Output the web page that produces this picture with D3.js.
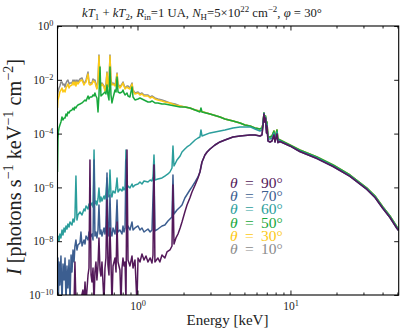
<!DOCTYPE html>
<html>
<head>
<meta charset="utf-8">
<script src="https://cdn.jsdelivr.net/npm/d3@7"></script>
<style>
body { margin: 0; background: #fff; }
svg text { white-space: pre; }
</style>
</head>
<body>
<script>

// energies in keV, intensities in photons s^-1 keV^-1 cm^-2

var lowGray10 = [
	[0.300, 2.11e-3], [0.302, 3.53e-3], [0.307, 4.96e-3], [0.311, 5.89e-3], [0.316, 8.29e-3], [0.321, 8.29e-3],
	[0.326, 6.41e-3], [0.331, 6.99e-3], [0.336, 5.41e-3], [0.341, 7.61e-3], [0.346, 9.03e-3], [0.351, 9.84e-3],
	[0.357, 6.99e-3], [0.362, 7.61e-3], [0.373, 7.61e-3], [0.379, 9.84e-3], [0.385, 8.29e-3], [0.390, 9.84e-3],
	[0.396, 7.61e-3], [0.402, 9.84e-3], [0.408, 8.29e-3], [0.421, 1.07e-2], [0.434, 1.17e-2], [0.447, 6.99e-3],
	[0.454, 8.29e-3], [0.461, 9.84e-3], [0.475, 1.95e-2], [0.482, 8.29e-3], [0.489, 7.61e-3], [0.504, 7.61e-3],
	[0.512, 1.07e-2], [0.520, 9.84e-3], [0.527, 9.84e-3], [0.535, 6.99e-3], [0.543, 4.96e-3], [0.552, 9.84e-3],
	[0.560, 8.36e-2], [0.569, 8.29e-3], [0.577, 6.99e-3], [0.586, 7.61e-3], [0.604, 5.89e-3], [0.613, 4.18e-3],
	[0.622, 6.99e-3], [0.632, 1.95e-2], [0.641, 6.41e-3], [0.651, 8.29e-3], [0.661, 8.36e-2], [0.671, 9.84e-3],
	[0.681, 6.99e-3], [0.692, 7.61e-3], [0.713, 6.41e-3], [0.724, 9.84e-3], [0.735, 1.79e-2], [0.746, 6.99e-3],
	[0.768, 5.41e-3], [0.792, 6.99e-3], [0.804, 8.29e-3], [0.816, 6.41e-3], [0.829, 4.96e-3], [0.854, 5.89e-3],
	[0.867, 5.89e-3], [0.893, 4.96e-3], [0.921, 7.61e-3], [0.935, 4.18e-3], [0.963, 3.24e-3], [1.008, 3.53e-3],
	[1.038, 2.97e-3], [1.070, 3.24e-3], [1.103, 2.73e-3], [1.171, 2.73e-3], [1.21, 2.30e-3], [1.244, 2.50e-3],
	[1.30, 2.11e-3], [1.36, 1.94e-3], [1.446, 1.78e-3], [1.51, 1.63e-3], [1.63, 1.38e-3], [1.76, 1.26e-3],
	[1.90, 1.06e-3], [2.04, 9.76e-4], [2.20, 8.96e-4], [2.38, 7.55e-4], [2.56, 6.93e-4]
];

var lowGold30 = [
	[0.300, 8.96e-4], [0.302, 1.78e-3], [0.307, 2.50e-3], [0.311, 3.53e-3], [0.316, 4.18e-3], [0.321, 4.96e-3],
	[0.326, 3.53e-3], [0.331, 4.18e-3], [0.336, 3.53e-3], [0.341, 4.96e-3], [0.346, 5.89e-3], [0.351, 6.99e-3],
	[0.357, 4.96e-3], [0.362, 5.89e-3], [0.373, 6.41e-3], [0.379, 8.29e-3], [0.385, 6.41e-3], [0.390, 8.29e-3],
	[0.396, 5.89e-3], [0.402, 8.29e-3], [0.408, 6.99e-3], [0.421, 9.03e-3], [0.434, 9.84e-3], [0.447, 6.41e-3],
	[0.454, 7.61e-3], [0.461, 8.29e-3], [0.475, 1.65e-2], [0.482, 6.99e-3], [0.489, 6.41e-3], [0.504, 6.99e-3],
	[0.512, 9.03e-3], [0.520, 8.29e-3], [0.527, 8.29e-3], [0.535, 5.89e-3], [0.543, 4.56e-3], [0.552, 8.29e-3],
	[0.560, 7.67e-2], [0.569, 6.99e-3], [0.577, 5.89e-3], [0.586, 6.99e-3], [0.604, 5.41e-3], [0.613, 3.84e-3],
	[0.622, 5.89e-3], [0.632, 1.79e-2], [0.641, 5.41e-3], [0.651, 6.99e-3], [0.661, 7.67e-2], [0.671, 8.29e-3],
	[0.681, 6.41e-3], [0.692, 6.99e-3], [0.713, 5.89e-3], [0.724, 8.29e-3], [0.735, 1.65e-2], [0.746, 6.41e-3],
	[0.768, 4.96e-3], [0.792, 6.41e-3], [0.804, 7.61e-3], [0.816, 5.89e-3], [0.829, 4.56e-3], [0.854, 5.41e-3],
	[0.867, 4.96e-3], [0.893, 4.56e-3], [0.921, 6.99e-3], [0.935, 3.84e-3], [0.963, 2.97e-3], [1.008, 3.24e-3],
	[1.038, 2.73e-3], [1.070, 2.97e-3], [1.103, 2.50e-3], [1.171, 2.50e-3], [1.21, 2.11e-3], [1.244, 2.30e-3],
	[1.30, 1.94e-3], [1.36, 1.78e-3], [1.446, 1.63e-3], [1.51, 1.50e-3], [1.63, 1.38e-3], [1.76, 1.16e-3],
	[1.90, 1.06e-3], [2.04, 9.76e-4], [2.20, 8.96e-4], [2.38, 7.55e-4], [2.56, 6.93e-4]
];

var lowGreen50 = [
	[0.300, 3.74e-6], [0.302, 5.78e-5], [0.304, 1.15e-4], [0.307, 1.62e-4], [0.311, 2.10e-4], [0.316, 2.71e-4],
	[0.321, 4.15e-4], [0.326, 3.21e-4], [0.331, 3.81e-4], [0.336, 3.81e-4], [0.341, 5.37e-4], [0.346, 4.52e-4],
	[0.351, 6.37e-4], [0.357, 5.85e-4], [0.362, 6.93e-4], [0.373, 7.55e-4], [0.379, 8.96e-4], [0.385, 7.55e-4],
	[0.390, 9.76e-4], [0.396, 8.96e-4], [0.402, 1.06e-3], [0.408, 1.16e-3], [0.421, 1.26e-3], [0.434, 1.38e-3],
	[0.447, 1.63e-3], [0.454, 1.78e-3], [0.461, 1.63e-3], [0.475, 2.50e-3], [0.482, 1.94e-3], [0.489, 2.30e-3],
	[0.504, 2.30e-3], [0.512, 2.73e-3], [0.520, 2.50e-3], [0.527, 3.24e-3], [0.535, 2.50e-3], [0.543, 2.11e-3],
	[0.552, 6.37e-4], [0.560, 2.73e-3], [0.569, 2.99e-2], [0.577, 2.50e-3], [0.586, 2.73e-3], [0.604, 3.24e-3],
	[0.613, 3.53e-3], [0.622, 2.97e-3], [0.632, 6.41e-3], [0.641, 2.73e-3], [0.651, 1.78e-3], [0.661, 2.99e-2],
	[0.671, 2.73e-3], [0.681, 1.38e-3], [0.692, 2.11e-3], [0.713, 4.18e-3], [0.724, 3.53e-3], [0.735, 1.27e-2],
	[0.746, 3.53e-3], [0.768, 3.24e-3], [0.792, 3.53e-3], [0.804, 4.18e-3], [0.816, 3.24e-3], [0.829, 2.73e-3],
	[0.854, 3.24e-3], [0.867, 2.50e-3], [0.893, 2.30e-3], [0.921, 5.41e-3], [0.935, 2.30e-3], [0.963, 1.78e-3],
	[1.008, 1.94e-3], [1.038, 2.11e-3], [1.070, 1.94e-3], [1.103, 1.78e-3], [1.171, 1.50e-3], [1.21, 1.50e-3],
	[1.244, 1.63e-3], [1.30, 1.38e-3], [1.36, 1.38e-3], [1.446, 1.26e-3], [1.51, 1.26e-3], [1.63, 1.16e-3],
	[1.76, 1.06e-3], [1.90, 9.76e-4], [2.04, 9.76e-4], [2.20, 8.96e-4], [2.38, 7.55e-4], [2.56, 6.37e-4],
	[2.60, 8.96e-4], [2.64, 6.37e-4]
];

var lowTeal60 = [
	[0.300, 9.33e-9], [0.302, 1.56e-8], [0.307, 1.02e-8], [0.311, 1.85e-8], [0.316, 1.32e-8], [0.321, 2.61e-8],
	[0.326, 1.70e-8], [0.331, 3.10e-8], [0.336, 2.20e-8], [0.341, 3.68e-8], [0.346, 2.84e-8], [0.351, 4.36e-8],
	[0.357, 3.37e-8], [0.362, 5.18e-8], [0.373, 4.00e-8], [0.379, 6.69e-8], [0.385, 5.18e-8], [0.390, 7.94e-8],
	[0.396, 2.65e-6], [0.402, 6.14e-8], [0.408, 9.42e-8], [0.421, 1.22e-7], [0.434, 9.42e-8], [0.447, 1.57e-7],
	[0.454, 1.33e-7], [0.461, 2.04e-7], [0.475, 1.57e-7], [0.482, 2.42e-7], [0.489, 1.87e-7], [0.504, 2.63e-7],
	[0.512, 1.87e-7], [0.520, 2.46e-5], [0.527, 2.42e-7], [0.535, 3.12e-7], [0.543, 2.22e-7], [0.552, 3.71e-7],
	[0.560, 9.51e-7], [0.569, 2.87e-7], [0.577, 4.40e-7], [0.586, 3.12e-7], [0.604, 4.79e-7], [0.613, 3.71e-7],
	[0.622, 6.19e-7], [0.632, 2.24e-6], [0.641, 5.22e-7], [0.651, 4.40e-7], [0.661, 4.44e-6], [0.671, 5.69e-7],
	[0.681, 4.40e-7], [0.692, 7.35e-7], [0.713, 6.19e-7], [0.724, 9.51e-7], [0.735, 2.24e-6], [0.746, 6.75e-7],
	[0.768, 8.73e-7], [0.792, 7.35e-7], [0.804, 1.04e-6], [0.816, 8.00e-7], [0.829, 9.51e-7], [0.841, 2.46e-5],
	[0.854, 8.73e-7], [0.867, 1.13e-6], [0.893, 9.51e-7], [0.921, 1.34e-6], [0.935, 1.04e-6], [0.963, 1.23e-6],
	[1.008, 1.34e-6], [1.038, 1.59e-6], [1.070, 1.34e-6], [1.103, 1.73e-6], [1.171, 1.59e-6], [1.21, 1.88e-6],
	[1.244, 1.73e-6], [1.263, 2.44e-6], [1.282, 1.60e-5], [1.30, 1.88e-6], [1.36, 2.05e-6], [1.446, 2.24e-6],
	[1.51, 2.65e-6], [1.582, 3.15e-6], [1.63, 3.74e-6], [1.681, 5.26e-6], [1.706, 3.47e-5], [1.732, 6.25e-6],
	[1.76, 7.41e-6], [1.812, 1.04e-5], [1.90, 1.47e-5], [1.954, 2.07e-5], [2.04, 2.68e-5], [2.107, 3.18e-5],
	[2.20, 3.77e-5], [2.306, 4.88e-5], [2.38, 5.78e-5], [2.486, 6.86e-5]
];

var hardTeal60 = [
	[2.56, 7.48e-5], [2.60, 1.37e-4], [2.64, 8.15e-5], [2.98, 1.06e-4], [3.46, 1.25e-4], [3.73, 1.37e-4],
	[4.21, 1.62e-4], [4.68, 1.77e-4], [5.44, 1.77e-4], [5.86, 1.49e-4], [6.32, 1.25e-4], [6.51, 1.37e-4],
	[6.61, 2.10e-4], [6.71, 5.85e-4], [6.78, 3.21e-4], [6.87, 4.15e-4], [6.97, 1.37e-4], [7.02, 2.28e-4],
	[7.13, 6.30e-5], [7.35, 6.30e-5], [7.57, 6.86e-5], [7.80, 1.06e-4], [7.92, 5.78e-5], [8.16, 1.15e-4],
	[8.28, 5.31e-5], [8.54, 5.40e-5], [9.92, 3.52e-5], [11.5, 2.29e-5], [14.9, 1.26e-5], [19.0, 6.35e-6],
	[24.5, 2.70e-6], [31.6, 8.87e-7], [35.7, 4.47e-7], [40.2, 1.74e-7], [44.7, 8.07e-8], [49.7, 3.16e-8],
	[50.9, 2.65e-8]
];

var lowBlue70 = [
	[0.300, 1.01e-9], [0.302, 2.38e-9], [0.304, 5e-11], [0.307, 1.69e-9], [0.311, 2.36e-10], [0.316, 2.82e-9],
	[0.321, 5e-11], [0.326, 1.42e-9], [0.331, 3.61e-10], [0.336, 2.38e-9], [0.341, 5e-11], [0.346, 1.20e-9],
	[0.351, 1.82e-10], [0.357, 2.00e-9], [0.362, 5e-11], [0.368, 3.07e-9], [0.373, 7.16e-10], [0.379, 4.71e-9],
	[0.385, 1.69e-9], [0.390, 6.63e-9], [0.396, 1.11e-8], [0.402, 4.71e-9], [0.408, 7.23e-9], [0.421, 8.57e-9],
	[0.427, 2.20e-8], [0.434, 6.63e-9], [0.447, 1.11e-8], [0.454, 7.87e-9], [0.461, 1.56e-8], [0.475, 1.11e-8],
	[0.482, 2.20e-8], [0.489, 1.32e-8], [0.504, 1.85e-8], [0.512, 1.11e-8], [0.520, 1.04e-5], [0.527, 1.56e-8],
	[0.535, 2.20e-8], [0.543, 1.32e-8], [0.552, 2.61e-8], [0.560, 2.22e-7], [0.569, 1.85e-8], [0.577, 2.61e-8],
	[0.586, 1.56e-8], [0.604, 3.10e-8], [0.613, 1.85e-8], [0.622, 4.00e-8], [0.632, 3.43e-6], [0.641, 2.20e-8],
	[0.651, 1.56e-8], [0.661, 5.22e-7], [0.671, 2.02e-8], [0.681, 1.56e-8], [0.692, 3.10e-8], [0.713, 1.85e-8],
	[0.724, 4.36e-8], [0.735, 3.40e-7], [0.746, 2.20e-8], [0.768, 2.61e-8], [0.792, 1.85e-8], [0.804, 3.68e-8],
	[0.816, 2.20e-8], [0.829, 3.10e-8], [0.841, 1.04e-5], [0.854, 2.61e-8], [0.867, 3.68e-8], [0.893, 2.61e-8],
	[0.921, 5.18e-8], [0.935, 2.61e-8], [0.963, 3.10e-8], [1.008, 3.68e-8], [1.038, 2.61e-8], [1.070, 3.10e-8],
	[1.103, 2.20e-8], [1.171, 2.84e-8], [1.21, 2.20e-8], [1.244, 2.61e-8], [1.282, 6.81e-6], [1.30, 2.40e-8],
	[1.36, 2.84e-8], [1.446, 3.68e-8], [1.51, 4.00e-8], [1.582, 5.64e-8], [1.63, 6.69e-8], [1.681, 7.94e-8],
	[1.706, 2.89e-6], [1.732, 1.03e-7], [1.812, 1.45e-7], [1.90, 1.87e-7], [1.954, 2.22e-7], [2.04, 4.04e-7],
	[2.139, 6.19e-7], [2.20, 8.00e-7], [2.271, 1.04e-6], [2.38, 1.59e-6], [2.486, 2.44e-6], [2.56, 3.74e-6],
	[2.64, 8.79e-6]
];

var lowPurple90 = [
	[0.300, 5e-11], [0.385, 5e-11], [0.390, 1.69e-9], [0.396, 5e-11], [0.421, 5e-11], [0.440, 1.53e-10],
	[0.447, 5e-11], [0.454, 3.04e-10], [0.461, 5e-11], [0.475, 5.53e-10], [0.482, 1.01e-9], [0.489, 1.04e-5],
	[0.497, 5.53e-10], [0.504, 3.04e-10], [0.512, 1.01e-9], [0.520, 5e-11], [0.527, 7.16e-10], [0.535, 1.69e-9],
	[0.543, 3.61e-10], [0.552, 1.30e-9], [0.560, 1.32e-8], [0.569, 8.49e-10], [0.577, 5.08e-10], [0.586, 1.69e-9],
	[0.604, 5e-11], [0.613, 1.01e-9], [0.622, 2.38e-9], [0.632, 3.40e-7], [0.641, 1.30e-9], [0.651, 5.53e-10],
	[0.661, 3.10e-8], [0.671, 1.69e-9], [0.681, 5e-11], [0.692, 1.20e-9], [0.713, 2.38e-9], [0.724, 7.16e-10],
	[0.735, 5.18e-8], [0.746, 1.69e-9], [0.768, 8.49e-10], [0.780, 5e-11], [0.792, 1.01e-9], [0.804, 2.38e-9],
	[0.816, 1.20e-9], [0.829, 1.69e-9], [0.841, 5e-11], [0.854, 2.46e-5], [0.867, 2.00e-9], [0.893, 1.20e-9],
	[0.921, 2.82e-9], [0.935, 1.01e-9], [0.963, 2.00e-9], [0.992, 5e-11], [1.008, 2.38e-9], [1.038, 1.69e-9],
	[1.070, 3.35e-9], [1.103, 2.00e-9], [1.136, 2.82e-9], [1.171, 1.69e-9], [1.21, 2.38e-9], [1.244, 1.55e-9],
	[1.263, 3.07e-9], [1.282, 6.81e-6], [1.30, 1.69e-9], [1.36, 2.38e-9], [1.40, 1.69e-9], [1.446, 3.07e-9],
	[1.51, 2.38e-9], [1.559, 3.97e-9], [1.63, 4.71e-9], [1.681, 6.63e-9], [1.706, 1.23e-6], [1.732, 7.87e-9],
	[1.784, 1.32e-8], [1.840, 1.85e-8], [1.90, 3.10e-8], [1.954, 5.18e-8], [2.04, 1.22e-7], [2.107, 2.22e-7],
	[2.20, 4.04e-7], [2.271, 6.75e-7], [2.38, 1.23e-6], [2.486, 2.24e-6], [2.56, 3.74e-6], [2.64, 8.79e-6]
];

// hard part shared by the 10, 30 and 50 degree spectra (they coincide above ~3 keV)
var hardUpper = [
	[2.98, 5.37e-4], [3.46, 4.15e-4], [3.73, 3.50e-4], [4.21, 2.95e-4], [4.68, 2.49e-4], [5.04, 2.10e-4],
	[5.44, 1.92e-4], [5.86, 1.62e-4], [6.32, 1.49e-4], [6.51, 1.62e-4], [6.61, 2.28e-4], [6.71, 5.85e-4],
	[6.78, 3.81e-4], [6.87, 4.52e-4], [6.97, 1.62e-4], [7.02, 2.71e-4], [7.13, 7.48e-5], [7.35, 7.48e-5],
	[7.57, 8.15e-5], [7.80, 1.25e-4], [7.92, 6.86e-5], [8.16, 1.37e-4], [8.28, 6.30e-5], [8.54, 5.78e-5],
	[9.92, 3.77e-5], [11.5, 2.46e-5], [14.9, 1.35e-5], [19.0, 6.81e-6], [24.5, 2.89e-6], [31.6, 9.51e-7],
	[35.7, 4.79e-7], [40.2, 1.87e-7], [44.7, 8.65e-8], [49.7, 3.37e-8], [50.9, 2.84e-8]
];

// hard part shared by the 70 and 90 degree spectra
var hardLower = [
	[2.76, 1.60e-5], [2.85, 2.07e-5], [2.98, 2.68e-5], [3.21, 3.77e-5], [3.46, 4.88e-5], [3.73, 5.78e-5],
	[4.21, 7.48e-5], [4.68, 8.15e-5], [5.44, 8.87e-5], [5.86, 8.87e-5], [6.32, 8.15e-5], [6.51, 8.87e-5],
	[6.61, 1.92e-4], [6.71, 5.37e-4], [6.78, 2.71e-4], [6.87, 3.81e-4], [6.97, 1.06e-4], [7.02, 1.92e-4],
	[7.13, 5.31e-5], [7.35, 4.88e-5], [7.57, 5.31e-5], [7.80, 8.87e-5], [7.92, 4.88e-5], [8.16, 9.71e-5],
	[8.28, 4.60e-5], [8.54, 5.09e-5], [9.92, 3.47e-5], [11.5, 2.16e-5], [14.9, 1.18e-5], [19.0, 5.99e-6],
	[24.5, 2.55e-6], [31.6, 8.40e-7], [35.7, 4.20e-7], [40.2, 1.64e-7], [44.7, 7.60e-8], [49.7, 2.97e-8],
	[50.9, 2.50e-8]
];

var angles = ["10", "30", "50", "60", "70", "90"];
var colors = ["#8c8c8c", "#fcc916", "#18a83c", "#2c9e9c", "#3c5e90", "#54195a"];
var legendOrder = ["90", "70", "60", "50", "30", "10"];

var xMajor = [1, 10];
var xMinor = [0.3, 0.4, 0.5, 0.6, 0.7, 0.8, 0.9, 2, 3, 4, 5, 6, 7, 8, 9, 20, 30, 40, 50];
var yMajor = [1, 1e-2, 1e-4, 1e-6, 1e-8, 1e-10];

var serif = "'Liberation Serif', 'DejaVu Serif', serif";

function drawChart(){

	var w = 415;
	var h = 332;

	var left = 57.5;
	var right = 398.7;
	var top = 26;
	var bottom = 295;

	var svg = d3.select("body")
		.append("svg")
		.attr("width", w)
		.attr("height", h)
		.style("font-family", serif);

	var x = d3.scaleLog().domain([0.3, 51]).range([left, right]);
	var y = d3.scaleLog().domain([1e-10, 1]).range([bottom, top]);

	var spectra = {
		"10": lowGray10.concat(hardUpper),
		"30": lowGold30.concat(hardUpper),
		"50": lowGreen50.concat(hardUpper),
		"60": lowTeal60.concat(hardTeal60),
		"70": lowBlue70.concat(hardLower),
		"90": lowPurple90.concat(hardLower)
	};

	// writes a string with italics / super / subscripts as tspans
	function addParts(sel, parts, size){
		var shift = 0;
		parts.forEach(function(p){
			var target = p.sup ? -0.4 * size : (p.sub ? 0.25 * size : 0);
			sel.append("tspan")
				.attr("dy", target - shift)
				.attr("font-size", (p.sup || p.sub) ? size * 0.7 : size)
				.attr("font-style", p.it ? "italic" : null)
				.text(p.t);
			shift = target;
		});
	}

	// builds the label then rescales it to the width seen in the figure
	function fittedText(g, parts, size, width){
		var t = g.append("text").attr("text-anchor", "middle").attr("fill", "#222")
			.style("font-family", serif);
		addParts(t, parts, size);
		var len = t.node().getComputedTextLength();
		t.selectAll("tspan").remove();
		addParts(t, parts, size * width / len);
		return t;
	}

	svg.append("clipPath").attr("id", "plotclip")
		.append("rect")
		.attr("x", left).attr("y", top)
		.attr("width", right - left).attr("height", bottom - top);

	// SPECTRA

	var line = d3.line()
		.x(function(d) { return x(d[0]); })
		.y(function(d) { return y(Math.max(d[1], 3e-11)); });

	svg.append("g")
		.attr("clip-path", "url(#plotclip)")
		.selectAll("path")
		.data(angles)
		.enter()
		.append("path")
		.attr("d", function(a) { return line(spectra[a]); })
		.attr("fill", "none")
		.attr("stroke", function(a, i) { return colors[i]; })
		.attr("stroke-width", 1.5)
		.attr("stroke-linejoin", "round");

	// AXES (ticks point inward on all four sides)

	function powLabel(sel, v){
		var e = Math.round(Math.log10(v));
		sel.text("10");
		sel.append("tspan").attr("dy", "-0.45em").attr("font-size", "0.72em")
			.text(e < 0 ? "\u2212" + (-e) : "" + e);
	}

	var gxb = svg.append("g").attr("transform", "translate(0," + bottom + ")")
		.call(d3.axisBottom(x).tickValues(xMajor).tickSizeInner(-4.5).tickSizeOuter(0).tickPadding(7));
	gxb.selectAll(".tick text").attr("font-size", 11.5).attr("fill", "#222")
		.style("font-family", serif)
		.each(function(d) { powLabel(d3.select(this), d); });

	svg.append("g").attr("transform", "translate(0," + bottom + ")")
		.call(d3.axisBottom(x).tickValues(xMinor).tickSize(-2.5).tickFormat(""));
	svg.append("g").attr("transform", "translate(0," + top + ")")
		.call(d3.axisTop(x).tickValues(xMajor).tickSize(-4.5).tickFormat(""));
	svg.append("g").attr("transform", "translate(0," + top + ")")
		.call(d3.axisTop(x).tickValues(xMinor).tickSize(-2.5).tickFormat(""));

	var gyl = svg.append("g").attr("transform", "translate(" + left + ",0)")
		.call(d3.axisLeft(y).tickValues(yMajor).tickSizeInner(-4.5).tickSizeOuter(0).tickPadding(4));
	gyl.selectAll(".tick text").attr("font-size", 11.5).attr("fill", "#222")
		.style("font-family", serif)
		.each(function(d) { powLabel(d3.select(this), d); });

	svg.append("g").attr("transform", "translate(" + right + ",0)")
		.call(d3.axisRight(y).tickValues(yMajor).tickSize(-4.5).tickFormat(""));

	svg.selectAll(".domain").remove();
	svg.selectAll(".tick line").attr("stroke", "#000").attr("stroke-width", 0.9);

	svg.append("rect")
		.attr("x", left).attr("y", top)
		.attr("width", right - left).attr("height", bottom - top)
		.attr("fill", "none").attr("stroke", "#000").attr("stroke-width", 1.1);

	// TITLE AND AXIS LABELS

	fittedText(svg, [
		{t: "kT", it: true}, {t: "1", sub: true}, {t: " + "}, {t: "kT", it: true}, {t: "2", sub: true},
		{t: ", "}, {t: "R", it: true}, {t: "in", sub: true}, {t: "=1 UA, "}, {t: "N", it: true}, {t: "H", sub: true},
		{t: "=5\u00d710"}, {t: "22", sup: true}, {t: " cm"}, {t: "\u22122", sup: true}, {t: ", "},
		{t: "\u03c6", it: true}, {t: " = 30\u00b0"}
	], 13, 240)
		.attr("x", 202).attr("y", 17);

	fittedText(svg, [{t: "Energy [keV]"}], 15, 82)
		.attr("x", 227.5).attr("y", 325);

	fittedText(svg, [
		{t: "I", it: true}, {t: " [photons s"}, {t: "\u22121", sup: true}, {t: " keV"}, {t: "\u22121", sup: true},
		{t: " cm"}, {t: "\u22122", sup: true}, {t: "]"}
	], 16, 216)
		.attr("transform", "translate(21,167) rotate(-90)");

	// LEGEND (coloured text only, one text per row)

	var leg = svg.append("g").selectAll("text")
		.data(legendOrder)
		.enter()
		.append("text")
		.attr("y", function(d, i) { return 188 + i * 13.2; })
		.attr("fill", function(d) { return colors[angles.indexOf(d)]; })
		.attr("font-size", 15.5)
		.style("font-family", serif);

	leg.append("tspan").attr("x", 230).attr("font-style", "italic").text("\u03b8");
	leg.append("tspan").attr("x", 245).text("=");
	leg.append("tspan").attr("x", 261).text(function(d) { return d + "\u00b0"; });

}

drawChart();

</script>
</body>
</html>
